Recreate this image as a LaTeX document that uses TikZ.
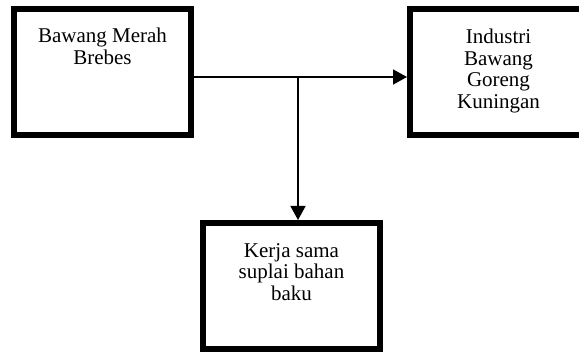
\documentclass[tikz,border=0pt]{standalone}
\usepackage{fontspec}
\setmainfont{Liberation Serif}
\usetikzlibrary{arrows.meta, positioning}

\begin{document}
\begin{tikzpicture}[x=1pt, y=-1pt,
  box/.style={draw, line width=6pt, minimum width=177pt, minimum height=126pt, inner sep=0pt},
  boxtext/.style={align=center, inner sep=0pt, font=\fontsize{21}{21.5}\selectfont},
  flow/.style={line width=1.5pt, -{Triangle[length=14pt, width=15pt]}}]
  \useasboundingbox (0,0) rectangle (579,352);
  \clip (0,0) rectangle (579,352);

  % SOURCE — top left
  \node[box] (brebes) at (102.5,72) {};
  \node[boxtext, below=22pt of brebes.north] (brebestext) {Bawang Merah\\Brebes};

  % BUYER — top right, cut by the page edge
  \node[box] (industri) at (498.5,72) {};
  \node[boxtext, below=23pt of industri.north] (industritext) {Industri\\Bawang\\Goreng\\Kuningan};

  % PARTNERSHIP — bottom middle
  \node[box] (kerjasama) at (291.5,286) {};
  \node[boxtext, below=23pt of kerjasama.north] (kerjasamatext) {Kerja sama\\suplai bahan\\baku};

  % connectors
  \coordinate (split) at (298,77);
  \draw[flow] (brebes.east |- split) -- (industri.west |- split);
  \draw[flow] (split) -- (split |- kerjasama.north);
\end{tikzpicture}
\end{document}
